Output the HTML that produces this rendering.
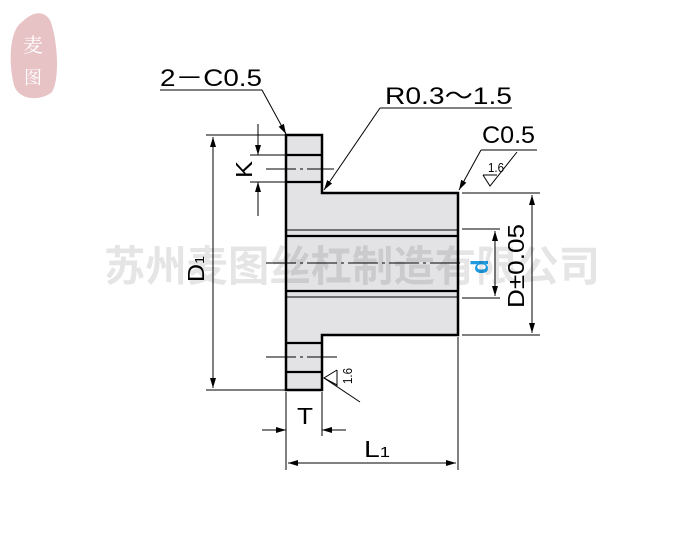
<!DOCTYPE html><html><head><style>body{margin:0;background:#fff}svg{display:block}</style></head><body>
<svg width="698" height="533" viewBox="0 0 698 533" xmlns="http://www.w3.org/2000/svg" font-family="Liberation Sans, sans-serif">
<defs><marker id="a" markerWidth="10" markerHeight="6" refX="10" refY="3" orient="auto-start-reverse" markerUnits="userSpaceOnUse"><path d="M0,0L10,3L0,6z" fill="#000"/></marker></defs>
<path d="M22,22 C10,30 8,60 14,85 C18,100 40,102 52,92 C60,80 58,40 50,20 C42,8 30,14 22,22Z" fill="#e8c3c6"/>
<text x="33" y="52" font-size="20" fill="#fff" text-anchor="middle" font-family="Noto Serif CJK SC, serif">麦</text>
<text x="33" y="84" font-size="18" fill="#fff" text-anchor="middle" font-family="Noto Serif CJK SC, serif">图</text>
<g fill="#e3e3e5" stroke="#000" stroke-width="2.5">
<path d="M286,135H322V193H458V335H322V390H286Z"/>
</g>
<g stroke="#000" stroke-width="2.2">
<line x1="286" y1="155" x2="322" y2="155"/><line x1="286" y1="182" x2="322" y2="182"/>
<line x1="286" y1="343" x2="322" y2="343"/><line x1="286" y1="372" x2="322" y2="372"/>
<line x1="286" y1="236" x2="458" y2="236"/><line x1="286" y1="291" x2="458" y2="291"/>
</g>
<g stroke="#000" stroke-width="1"><line x1="286" y1="230" x2="458" y2="230"/><line x1="286" y1="297" x2="458" y2="297"/></g>
<g stroke="#000" stroke-width="1" stroke-dasharray="30,4,3,4">
<line x1="266" y1="169" x2="334" y2="169"/><line x1="266" y1="357" x2="340" y2="357"/><line x1="266" y1="263" x2="462" y2="263"/>
</g>
<g stroke="#000" stroke-width="1" fill="none">
<line x1="206" y1="135" x2="286" y2="135"/><line x1="206" y1="390" x2="286" y2="390"/>
<line x1="213" y1="137" x2="213" y2="388" marker-start="url(#a)" marker-end="url(#a)"/>
<line x1="250" y1="155" x2="286" y2="155"/><line x1="250" y1="182" x2="286" y2="182"/>
<line x1="258" y1="124" x2="258" y2="155" marker-end="url(#a)"/><line x1="258" y1="216" x2="258" y2="182" marker-end="url(#a)"/>
<line x1="462" y1="193" x2="540" y2="193"/><line x1="462" y1="335" x2="540" y2="335"/>
<line x1="462" y1="229" x2="500" y2="229"/><line x1="462" y1="298" x2="500" y2="298"/>
<line x1="532" y1="195" x2="532" y2="333" marker-start="url(#a)" marker-end="url(#a)"/>
<line x1="495" y1="231" x2="495" y2="296" marker-start="url(#a)" marker-end="url(#a)"/>
<line x1="286" y1="392" x2="286" y2="470"/><line x1="322" y1="392" x2="322" y2="436"/><line x1="458" y1="337" x2="458" y2="470"/>
<line x1="262" y1="430" x2="286" y2="430" marker-end="url(#a)"/><line x1="346" y1="430" x2="322" y2="430" marker-end="url(#a)"/>
<line x1="288" y1="463" x2="456" y2="463" marker-start="url(#a)" marker-end="url(#a)"/>
<line x1="160" y1="90" x2="262" y2="90"/><line x1="262" y1="90" x2="286" y2="134" marker-end="url(#a)"/>
<line x1="512" y1="108" x2="380" y2="108"/><line x1="380" y1="108" x2="324" y2="190" marker-end="url(#a)"/>
<line x1="537" y1="150" x2="481" y2="150"/><line x1="481" y1="150" x2="459" y2="190" marker-end="url(#a)"/>
<path d="M483,175L490,186L517,152"/><line x1="483" y1="175" x2="497" y2="175"/>
<path d="M337,370L324,378L337,385"/><line x1="324" y1="378" x2="360" y2="402"/><line x1="337" y1="370" x2="337" y2="386"/>
</g>
<text x="160" y="86" font-size="24" textLength="102" lengthAdjust="spacingAndGlyphs">2－C0.5</text>
<text x="385" y="104" font-size="24" textLength="127" lengthAdjust="spacingAndGlyphs">R0.3～1.5</text>
<text x="482" y="143" font-size="24" textLength="53" lengthAdjust="spacingAndGlyphs">C0.5</text>
<text x="488" y="172" font-size="13" textLength="16" lengthAdjust="spacingAndGlyphs">1.6</text>
<text transform="translate(352,384) rotate(-90)" font-size="13" textLength="16" lengthAdjust="spacingAndGlyphs">1.6</text>
<text transform="translate(252,178) rotate(-90)" font-size="23" textLength="17" lengthAdjust="spacingAndGlyphs">K</text>
<text transform="translate(204,282) rotate(-90)" font-size="23" textLength="26" lengthAdjust="spacingAndGlyphs">D<tspan font-size="13">1</tspan></text>
<text transform="translate(524,308) rotate(-90)" font-size="23" textLength="84" lengthAdjust="spacingAndGlyphs">D±0.05</text>
<text transform="translate(488,274) rotate(-90)" font-size="24" font-weight="bold" fill="#1e9be0">d</text>
<text x="297" y="424" font-size="23" textLength="16" lengthAdjust="spacingAndGlyphs">T</text>
<text x="364" y="457" font-size="23" textLength="26" lengthAdjust="spacingAndGlyphs">L<tspan font-size="15">1</tspan></text>
<text x="352" y="281" font-size="42" font-weight="bold" fill="#000" fill-opacity="0.1" text-anchor="middle" textLength="496" lengthAdjust="spacingAndGlyphs" font-family="Liberation Sans, Noto Sans CJK SC, sans-serif">苏州麦图丝杠制造有限公司</text>
</svg></body></html>
